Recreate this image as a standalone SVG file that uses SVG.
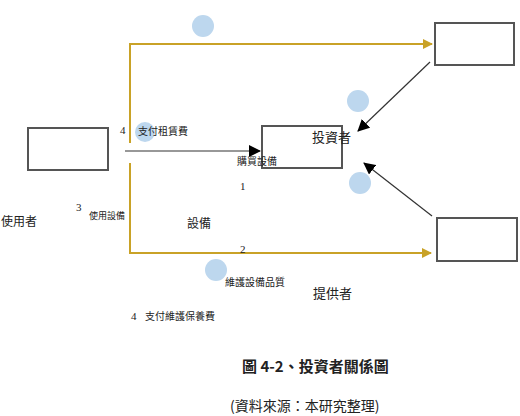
<svg xmlns="http://www.w3.org/2000/svg" width="520" height="416" viewBox="0 0 520 416">
<defs>
<marker id="ag" markerWidth="10" markerHeight="10" refX="9" refY="5" orient="auto" markerUnits="userSpaceOnUse"><path d="M0,0 L10,5 L0,10 z" fill="#c9a227"/></marker>
<marker id="ab" markerWidth="12" markerHeight="12" refX="11" refY="6" orient="auto" markerUnits="userSpaceOnUse"><path d="M0,0 L12,6 L0,12 z" fill="#000"/></marker>
<style>
.box{fill:#fff;stroke:#555;stroke-width:2}
.dot{fill:#bdd7ee}
.gold{fill:none;stroke:#c9a227;stroke-width:2}
.blk{fill:none;stroke:#333;stroke-width:1.2}
text{font-family:"Noto Sans CJK TC","Liberation Serif",serif;fill:#222}
.s{font-size:10px}
.m{font-size:12px}
.l{font-size:13px}
.n{font-family:"Liberation Serif",serif;font-size:11px}
.cap{font-size:15px;font-weight:bold}
</style>
</defs>
<g id="connectors">
<path class="gold" d="M130,143 V44 H432" marker-end="url(#ag)"/>
<path class="gold" d="M130,163 V253 H431" marker-end="url(#ag)"/>
<path class="blk" d="M125,151 H260" marker-end="url(#ab)" stroke="#000"/>
<path class="blk" d="M430,62 L358,131" marker-end="url(#ab)"/>
<path class="blk" d="M432,216 L364,163" marker-end="url(#ab)"/>
</g>
<g id="dots">
<circle class="dot" cx="203" cy="26" r="11"/>
<circle class="dot" cx="358" cy="101" r="11"/>
<circle class="dot" cx="145" cy="132" r="10"/>
<circle class="dot" cx="360" cy="183" r="11"/>
<circle class="dot" cx="216" cy="270" r="11"/>
</g>
<g id="node-user"><rect class="box" x="28" y="128" width="80" height="42"/></g>
<g id="node-investor"><rect class="box" x="262" y="126" width="80" height="42"/><text class="l" x="312" y="142">投資者</text></g>
<g id="node-topright"><rect class="box" x="435" y="23" width="79" height="42"/></g>
<g id="node-bottomright"><rect class="box" x="437" y="218" width="80" height="43"/></g>
<g id="labels">
<text class="n" x="120" y="134">4</text>
<text class="s" x="138" y="135">支付租賃費</text>
<text class="s" x="237" y="165">購買設備</text>
<text class="n" x="240" y="190">1</text>
<text class="m" x="1" y="226">使用者</text>
<text class="n" x="76" y="211">3</text>
<text class="s" x="89" y="219" style="font-size:9px">使用設備</text>
<text class="m" x="187" y="228">設備</text>
<text class="n" x="240" y="253">2</text>
<text class="s" x="225" y="286">維護設備品質</text>
<text class="l" x="313" y="298">提供者</text>
<text class="n" x="131" y="320">4</text>
<text class="s" x="145" y="320">支付維護保養費</text>
<text class="cap" x="242" y="372">圖 4-2、投資者關係圖</text>
<text class="cap" x="230" y="411" style="font-weight:normal;font-size:14px">(資料來源：本研究整理)</text>
</g>
</svg>
